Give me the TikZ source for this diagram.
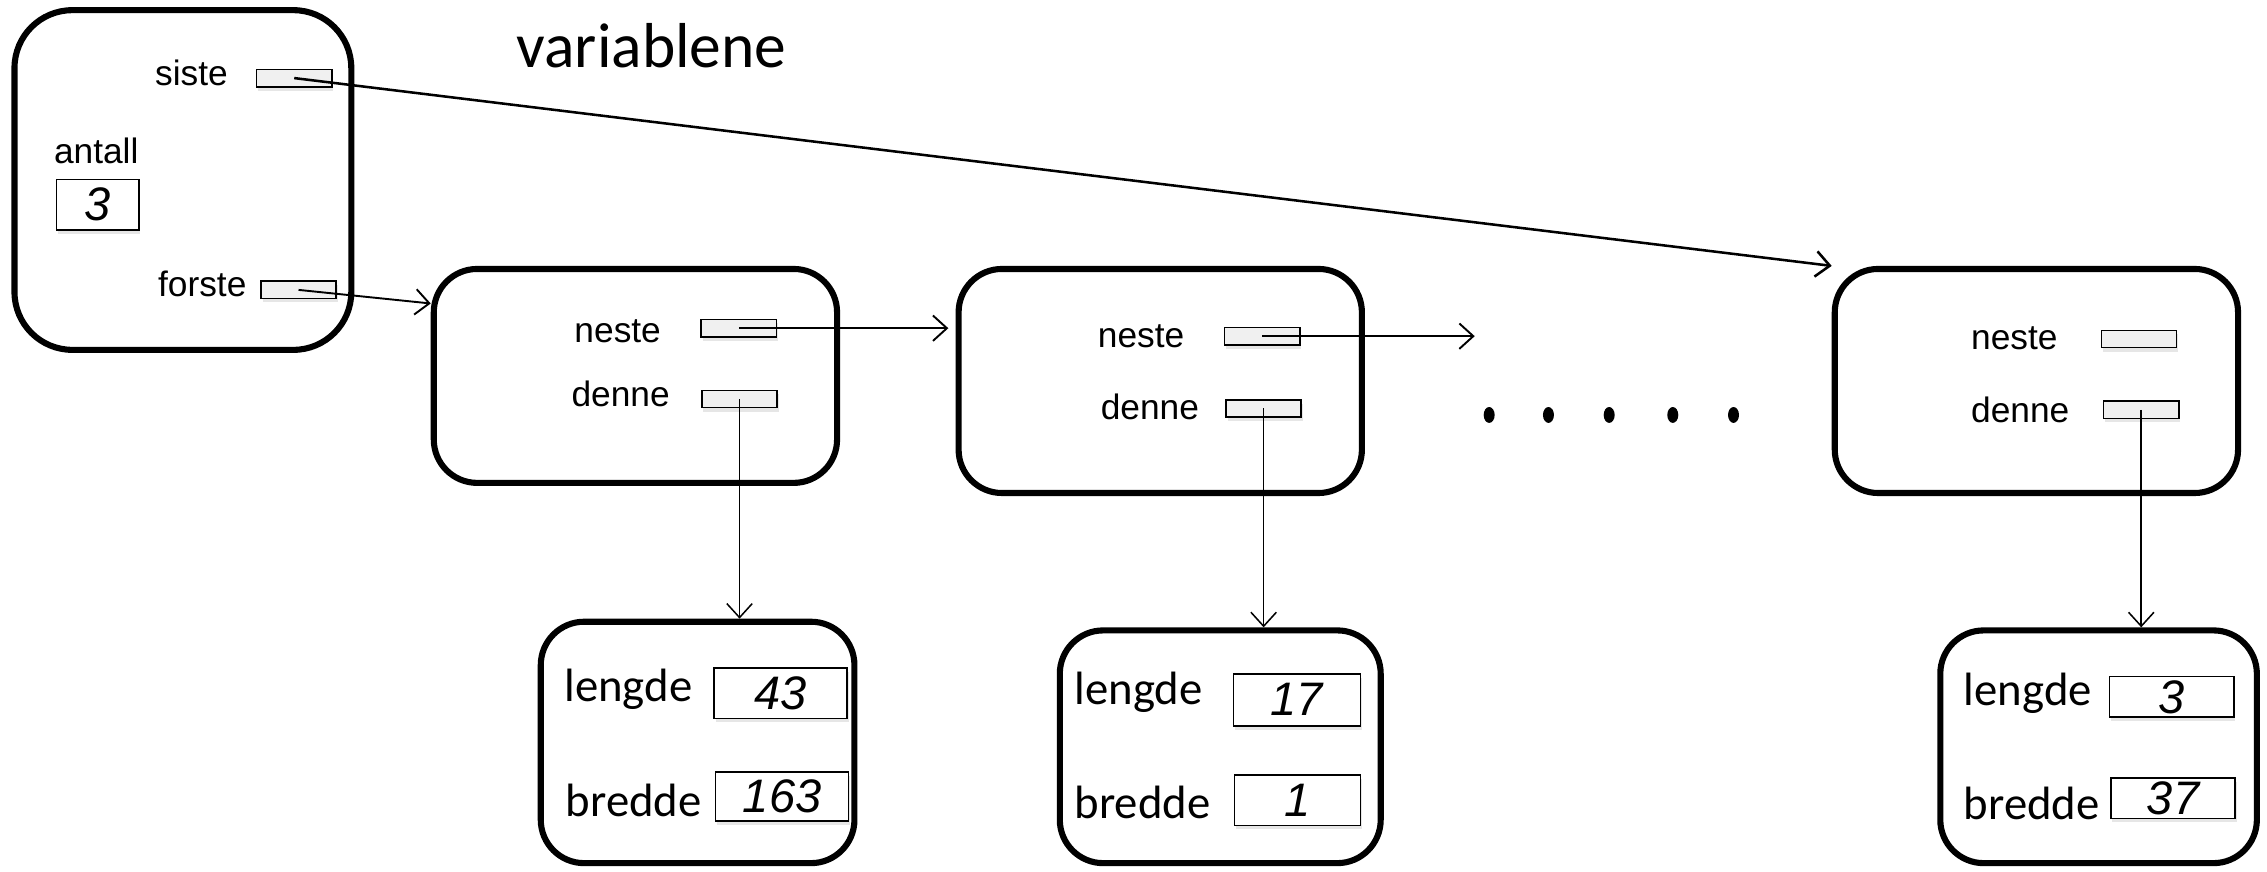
\documentclass[tikz,border=0pt]{standalone}
\usepackage{fontspec}
\usepackage{graphicx}
\setmainfont{Liberation Sans}
\newfontfamily\calibri{Carlito}
\usetikzlibrary{arrows.meta,shadows}
\tikzset{
  holder/.style={draw, line width=2.4pt, rounded corners=0.6cm, rectangle, inner sep=0pt},
  ptr/.style={draw, line width=0.6pt, fill=gray!12, minimum width=1.04cm, minimum height=0.24cm,
    inner sep=0pt, drop shadow={opacity=0.2, shadow xshift=0.6pt, shadow yshift=-1.5pt}},
  valbox/.style={draw, line width=0.6pt, fill=white, inner sep=0pt,
    font=\fontsize{18.5}{22}\selectfont\itshape,
    drop shadow={opacity=0.2, shadow xshift=0.6pt, shadow yshift=-1.5pt}},
  lbl/.style={anchor=base west, inner sep=0pt, font=\fontsize{13.9}{16}\selectfont},
  cal/.style={anchor=base west, inner sep=0pt, font=\calibri\fontsize{18.4}{21}\selectfont},
  link/.style={line width=0.75pt, -{Straight Barb[length=5.5pt, width=10pt]}},
}
\begin{document}
\begin{tikzpicture}[x=0.02cm, y=-0.02cm]
\useasboundingbox (0,0) rectangle (1568,603);

% heading
\node[anchor=base west, inner sep=0pt, font=\calibri\fontsize{25}{30}\selectfont] (title) at (357,47) {variablene};

% list head object
\node[holder, rounded corners=0.8cm, minimum width=4.66cm, minimum height=4.70cm] (head) at (126.5,124.5) {};
\node[lbl] (lsiste) at (107,59) {siste};
\node[ptr] (siste) at (203.5,54) {};
\node[lbl] (lantall) at (37,113) {antall};
\node[valbox, minimum width=1.14cm, minimum height=0.70cm] (antall) at (67.5,141.5) {3};
\node[lbl] (lforste) at (109,205) {forste};
\node[ptr] (forste) at (206.5,200.5) {};

% list nodes
\node[holder, minimum width=5.58cm, minimum height=2.96cm] (n1) at (439.5,260) {};
\node[lbl] (ln1a) at (397,237) {neste};
\node[ptr] (n1neste) at (511,227) {};
\node[lbl] (ln1b) at (395,281) {denne};
\node[ptr] (n1denne) at (511.5,276) {};

\node[holder, minimum width=5.58cm, minimum height=3.10cm] (n2) at (802.5,263.5) {};
\node[lbl] (ln2a) at (759,240) {neste};
\node[ptr] (n2neste) at (873,232.5) {};
\node[lbl] (ln2b) at (761,290) {denne};
\node[ptr] (n2denne) at (874,282.5) {};

\node[holder, minimum width=5.58cm, minimum height=3.10cm] (n3) at (1408.5,263.5) {};
\node[lbl] (ln3a) at (1363,242) {neste};
\node[ptr] (n3neste) at (1479.5,234.5) {};
\node[lbl] (ln3b) at (1363,292) {denne};
\node[ptr] (n3denne) at (1481,283.5) {};

% ellipsis between the nodes
\foreach \px in {1030,1071,1113,1157,1199}
  \fill (\px,287) ellipse [x radius=3.8, y radius=5.5];

% data objects
\node[holder, minimum width=4.34cm, minimum height=3.34cm] (d1) at (482.5,513.5) {};
\node[cal] (ld1a) at (390,485) {lengde};
\node[valbox, minimum width=1.84cm, minimum height=0.70cm] (d1l) at (540,479.5) {43};
\node[cal] (ld1b) at (391,565) {bredde};
\node[valbox, minimum width=1.84cm, minimum height=0.68cm] (d1b) at (541,551) {163};

\node[holder, minimum width=4.44cm, minimum height=3.22cm] (d2) at (844,516.5) {};
\node[cal] (ld2a) at (743,487) {lengde};
\node[valbox, minimum width=1.76cm, minimum height=0.72cm] (d2l) at (897,484) {17};
\node[cal] (ld2b) at (743,566) {bredde};
\node[valbox, minimum width=1.74cm, minimum height=0.70cm] (d2b) at (897.5,553.5) {1};

\node[holder, minimum width=4.38cm, minimum height=3.22cm] (d3) at (1451.5,516.5) {};
\node[cal] (ld3a) at (1358,488) {lengde};
\node[valbox, minimum width=1.72cm, minimum height=0.56cm] (d3l) at (1502,482) {3};
\node[cal] (ld3b) at (1358,567) {bredde};
\node[valbox, minimum width=1.72cm, minimum height=0.56cm] (d3b) at (1503,552) {37};

% references
\coordinate (open) at (1020,232.5);
\draw[link, line width=1pt] (siste.center) -- (n3.north west);
\draw[link] (forste.center) -- ([yshift=-0.52cm]n1.north west);
\draw[link] (n1neste.center) -- ([xshift=-0.1cm]n1neste.center -| n2.west);
\draw[link] (n2neste.center) -- (open);
\draw[link, line width=0.6pt] (n1denne.center) -- (n1denne.center |- d1.north);
\draw[link, line width=0.6pt] (n2denne.center) -- (n2denne.center |- d2.north);
\draw[link, line width=0.6pt] (n3denne.center) -- (n3denne.center |- d3.north);
\end{tikzpicture}
\end{document}
